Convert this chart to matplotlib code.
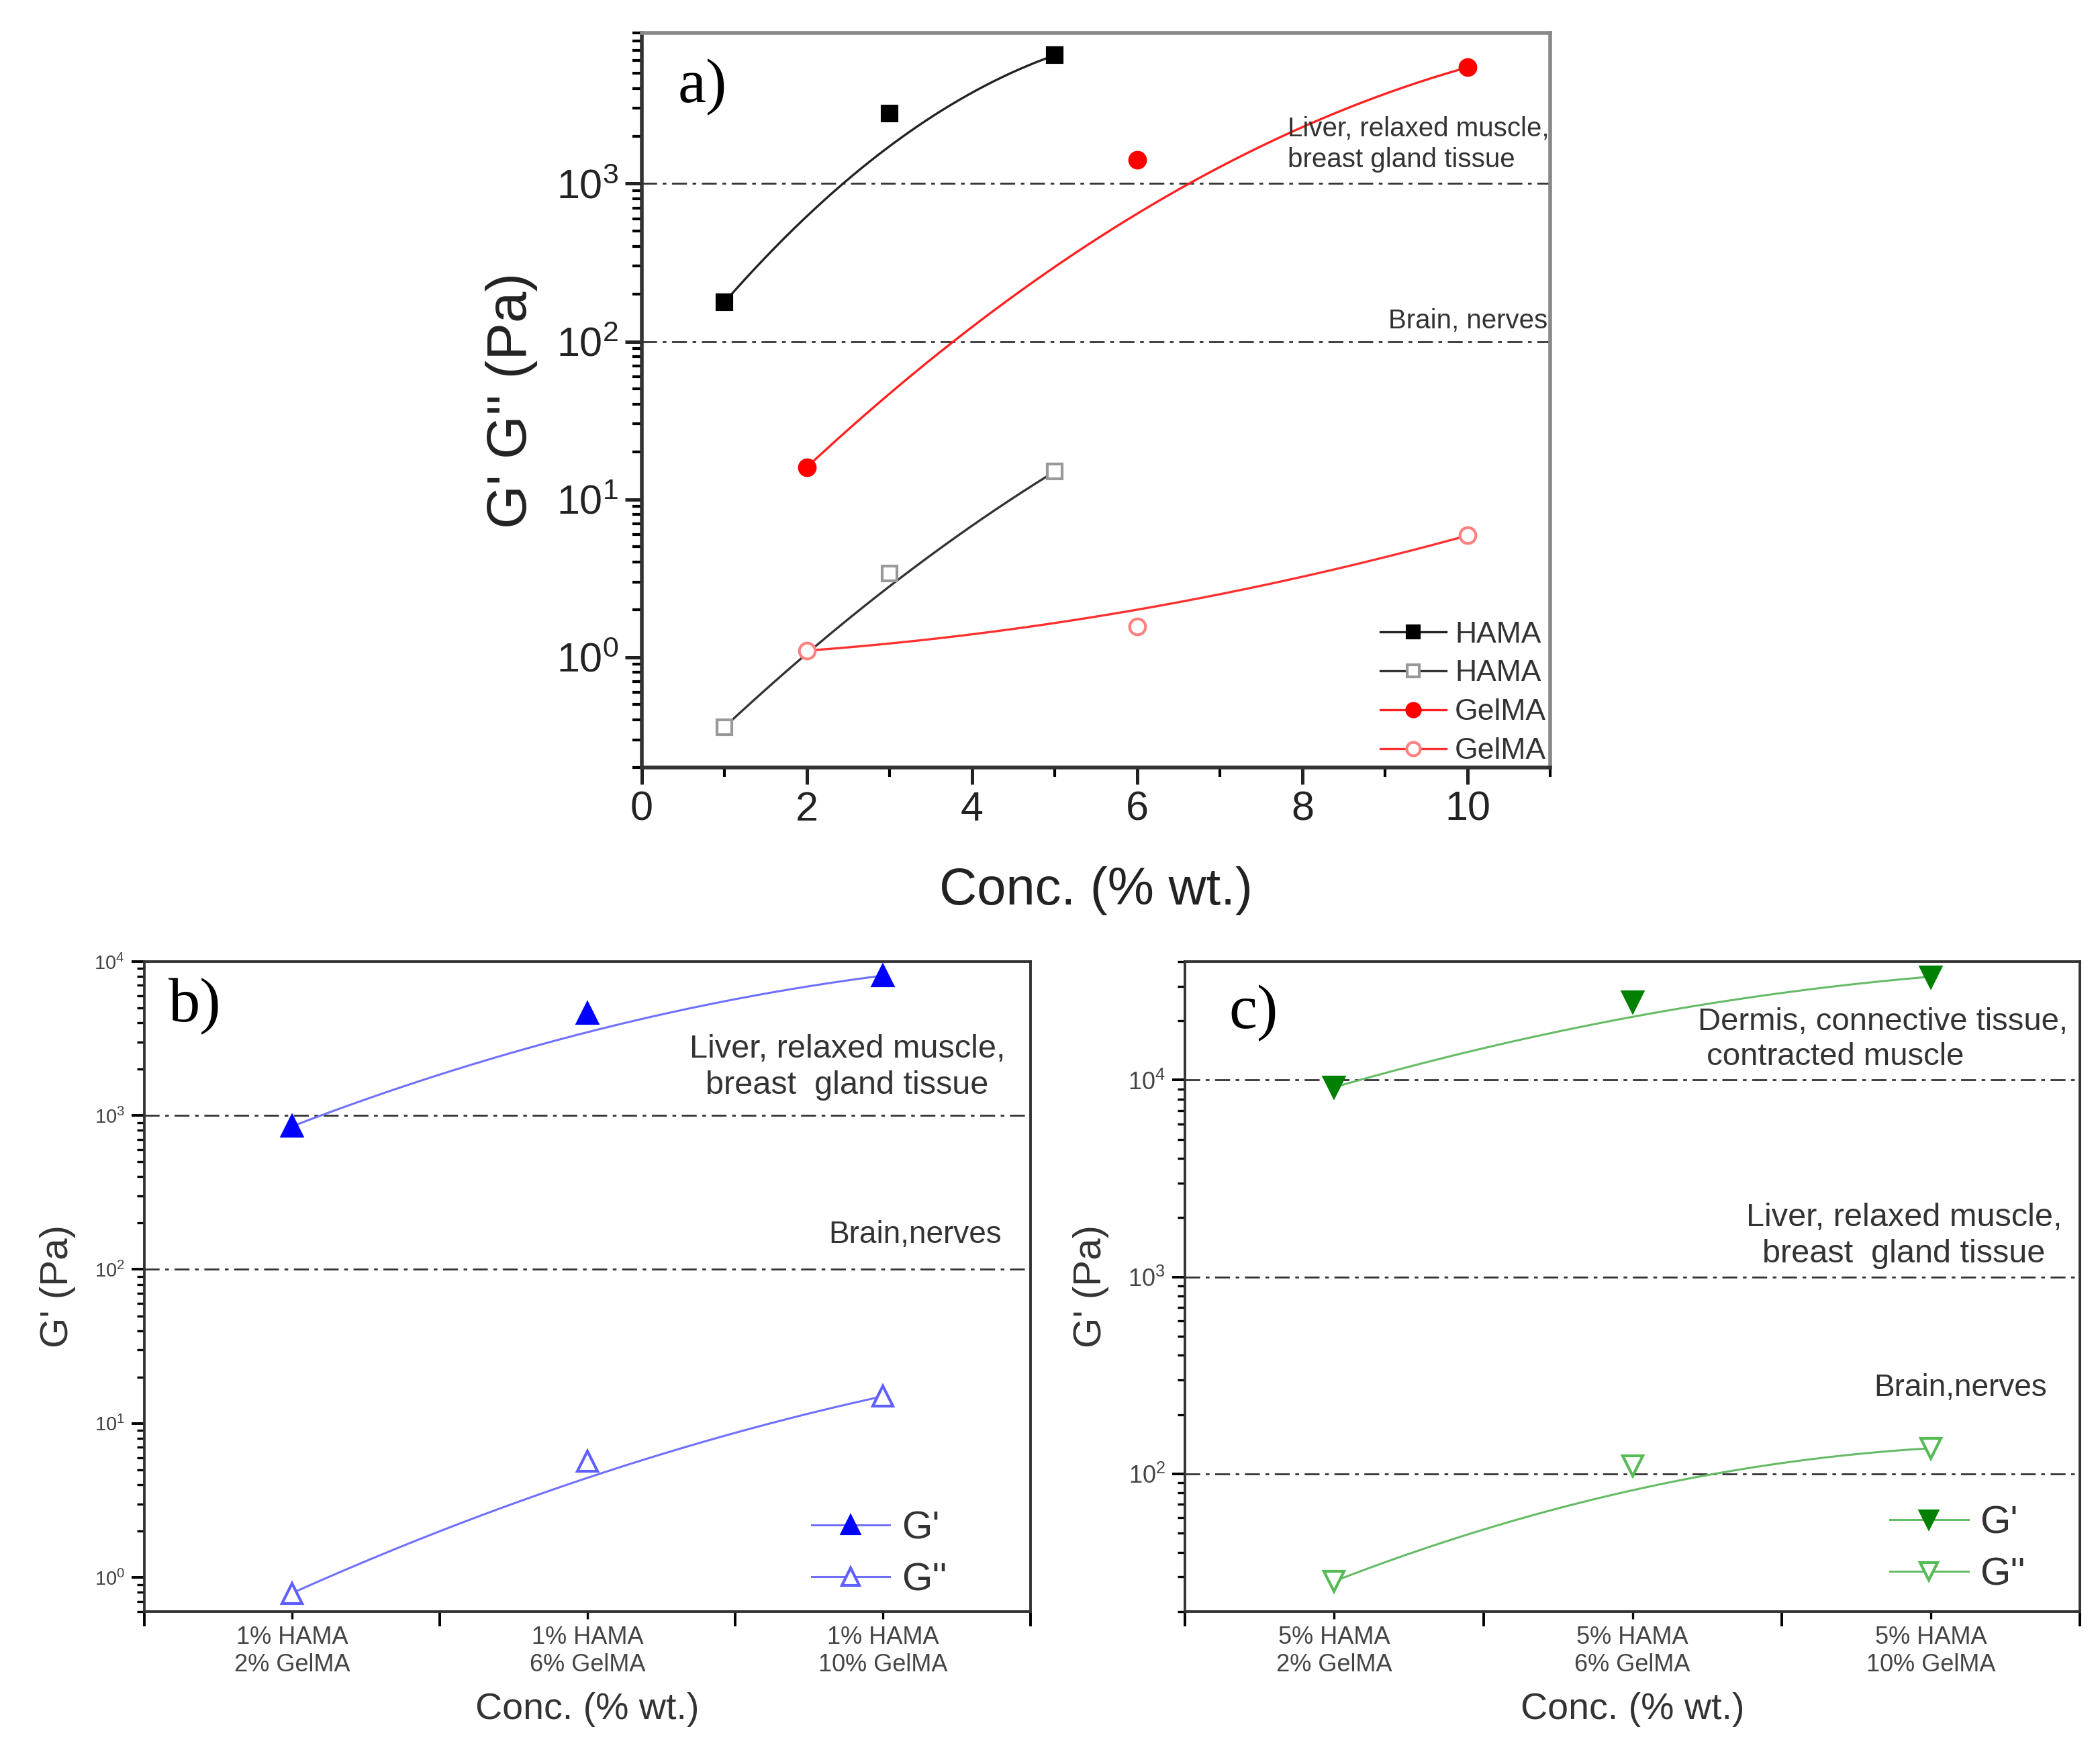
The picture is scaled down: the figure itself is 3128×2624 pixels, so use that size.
import numpy as np
import matplotlib
matplotlib.use("Agg")
import matplotlib.pyplot as plt
from matplotlib.ticker import LogLocator, NullFormatter, MultipleLocator

plt.rcParams['font.family'] = ['Liberation Sans', 'DejaVu Sans']
plt.rcParams['mathtext.fontset'] = 'custom'
plt.rcParams['mathtext.rm'] = 'Liberation Sans'
plt.rcParams['mathtext.it'] = 'Liberation Sans:italic'
plt.rcParams['mathtext.bf'] = 'Liberation Sans:bold'

# ---- panel a data (conc. % wt.) ----
hama_conc = [1, 3, 5]
hama_g1 = [177, 2770, 6500]
hama_g2 = [0.36, 3.4, 15]
gel_conc = [2, 6, 10]
gel_g1 = [16, 1410, 5450]
gel_g2 = [1.1, 1.57, 5.9]

# ---- panel b data ----
b_labels = ["1% HAMA\n2% GelMA", "1% HAMA\n6% GelMA", "1% HAMA\n10% GelMA"]
b_g1 = [850, 4600, 8100]
b_g2 = [0.79, 5.7, 15]

# ---- panel c data ----
c_labels = ["5% HAMA\n2% GelMA", "5% HAMA\n6% GelMA", "5% HAMA\n10% GelMA"]
c_g1 = [9200, 25000, 33500]
c_g2 = [28.5, 110, 135]

TXT = '#333333'


def bspline(x, y, n=200):
    # quadratic B-spline (clamped) in x / log(y) space, like Origin's B-spline connect
    t = np.linspace(0, 1, n)
    x = np.asarray(x, float)
    ly = np.log10(np.asarray(y, float))
    bx = (1 - t) ** 2 * x[0] + 2 * t * (1 - t) * x[1] + t ** 2 * x[2]
    by = (1 - t) ** 2 * ly[0] + 2 * t * (1 - t) * ly[1] + t ** 2 * ly[2]
    return bx, 10 ** by


def refline(ax, v):
    ax.axhline(v, color='#333333', lw=1.0, dashes=(8, 3, 2, 3), zorder=1)


def series(ax, x, y, lcolor, mcolor, marker, filled, label, ms, lw=1.2):
    cx, cy = bspline(x, y)
    ax.plot(cx, cy, color=lcolor, lw=lw, zorder=2)
    fc = mcolor if filled else 'white'
    ax.plot(x, y, ls='none', marker=marker, ms=ms, mfc=fc, mec=mcolor, mew=1.5, zorder=3)
    # legend proxy
    ax.plot([], [], color=lcolor, lw=lw, marker=marker, ms=ms * 0.85, mfc=fc, mec=mcolor,
            mew=1.5, label=label)


fig = plt.figure(figsize=(15.64, 13.12), dpi=200)

# ================= panel a =================
ax = fig.add_axes([0.3056, 0.5644, 0.4326, 0.4169])
ax.set_yscale('log')
series(ax, hama_conc, hama_g1, '#222222', 'black', 's', True, 'HAMA', 8)
series(ax, hama_conc, hama_g2, '#333333', '#999999', 's', False, 'HAMA', 8)
series(ax, gel_conc, gel_g1, '#ff2020', '#ff0000', 'o', True, 'GelMA', 8.5)
series(ax, gel_conc, gel_g2, '#ff3030', '#ff8080', 'o', False, 'GelMA', 8.5)
refline(ax, 1e3)
refline(ax, 1e2)
ax.set_xlim(0, 11)
ax.set_ylim(0.2, 9000)
ax.xaxis.set_major_locator(MultipleLocator(2))
ax.xaxis.set_minor_locator(MultipleLocator(1))
ax.yaxis.set_minor_locator(LogLocator(base=10, subs=np.arange(2, 10), numticks=50))
ax.yaxis.set_minor_formatter(NullFormatter())
ax.tick_params(axis='both', which='major', direction='out', length=9, width=1.8,
               labelsize=22, colors='#222222')
ax.tick_params(axis='both', which='minor', direction='out', length=5, width=1.5)
for s in ['left', 'bottom']:
    ax.spines[s].set_linewidth(2.0)
    ax.spines[s].set_color('#333333')
for s in ['top', 'right']:
    ax.spines[s].set_linewidth(2.0)
    ax.spines[s].set_color('#888888')
ax.set_ylabel("G' G'' (Pa)", fontsize=30, color='#222222', labelpad=10)
ax.set_xlabel("Conc. (% wt.)", fontsize=28, color='#222222', labelpad=20)
ax.text(0.04, 0.965, "a)", transform=ax.transAxes, fontsize=34, va='top', ha='left',
        family=['Liberation Serif', 'DejaVu Serif'])
ax.text(7.82, 1180, "Liver, relaxed muscle,\nbreast gland tissue", fontsize=14.5,
        color=TXT, ha='left', va='bottom', linespacing=1.25)
ax.text(10.97, 112, "Brain, nerves", fontsize=14.5, color=TXT, ha='right', va='bottom')
ax.legend(loc='lower left', bbox_to_anchor=(0.79, -0.025), frameon=False, fontsize=16,
          handlelength=2.2, handletextpad=0.3, labelspacing=0.38, borderpad=0.2,
          labelcolor='#333333')


def bottom_panel(rect, labels, g1, g2, lcolor, mcolor, lcolor2, m1, m2, ylim, refs,
                 notes, tag, tag_xy, leg_anchor, tick_fs):
    ax = fig.add_axes(rect)
    ax.set_yscale('log')
    pos = np.arange(1, len(labels) + 1)
    series(ax, pos, g1, lcolor, mcolor, m1, True, "G'", 11, lw=1.1)
    series(ax, pos, g2, lcolor, lcolor2, m2, False, "G''", 11, lw=1.1)
    for r in refs:
        refline(ax, r)
    ax.set_xlim(0.5, len(labels) + 0.5)
    ax.set_ylim(*ylim)
    ax.set_xticks(pos)
    ax.set_xticklabels(labels, fontsize=13, color='#444444', linespacing=1.25)
    ax.set_xticks(np.arange(0.5, len(labels) + 1, 1.0), minor=True)
    ax.yaxis.set_minor_locator(LogLocator(base=10, subs=np.arange(2, 10), numticks=50))
    ax.yaxis.set_minor_formatter(NullFormatter())
    ax.tick_params(axis='x', which='major', direction='out', length=4, width=1.2)
    ax.tick_params(axis='x', which='minor', direction='out', length=8, width=1.4)
    ax.tick_params(axis='y', which='major', direction='out', length=7, width=1.4,
                   labelsize=tick_fs, labelcolor='#444444')
    ax.tick_params(axis='y', which='minor', direction='out', length=4, width=1.2)
    for s in ax.spines.values():
        s.set_linewidth(1.4)
        s.set_color('#333333')
    ax.set_ylabel("G' (Pa)", fontsize=21, color='#333333', labelpad=10)
    ax.set_xlabel("Conc. (% wt.)", fontsize=20, color='#333333', labelpad=8)
    ax.text(tag_xy[0], tag_xy[1], tag, transform=ax.transAxes, fontsize=34, va='top',
            ha='left', family=['Liberation Serif', 'DejaVu Serif'])
    for (nx, ny, txt, ha, fs) in notes:
        ax.text(nx, ny, txt, fontsize=fs, color=TXT, ha=ha, va='bottom',
                multialignment='center' if ha == 'center' else 'left', linespacing=1.25)
    ax.legend(loc='lower left', bbox_to_anchor=leg_anchor, frameon=False, fontsize=21,
              handlelength=2.0, handletextpad=0.3, labelspacing=0.4, borderpad=0.2,
              labelcolor='#333333')
    return ax


# ================= panel b =================
bottom_panel([0.0687, 0.0854, 0.422, 0.3689], b_labels, b_g1, b_g2,
             '#7070ff', '#0000ff', '#6060ff', '^', '^', (0.6, 1e4), [1e3, 1e2],
             [(2.88, 1250, "Liver, relaxed muscle,\nbreast  gland tissue", 'center', 17.5),
              (3.11, 135, "Brain,nerves", 'center', 16.5)],
             "b)", (0.027, 0.975), (0.722, -0.022), 10.5)

# ================= panel c =================
bottom_panel([0.5643, 0.0854, 0.4262, 0.3689], c_labels, c_g1, c_g2,
             '#66bb66', '#008000', '#55bb55', 'v', 'v', (20, 40000), [1e4, 1e3, 1e2],
             [(2.22, 11000, "Dermis, connective tissue,\n contracted muscle", 'left', 17),
              (2.91, 1100, "Liver, relaxed muscle,\nbreast  gland tissue", 'center', 17.5),
              (3.1, 230, "Brain,nerves", 'center', 16.5)],
             "c)", (0.049, 0.965), (0.757, -0.014), 13)

fig.savefig('out.png', dpi=200)
